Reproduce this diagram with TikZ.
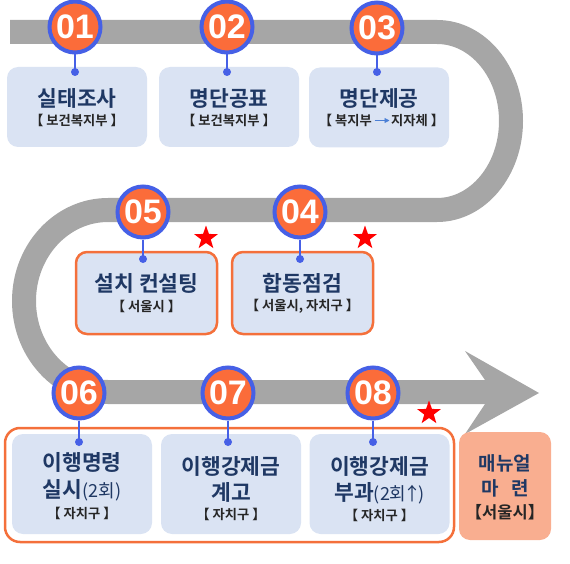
\documentclass[tikz,border=0pt]{standalone}
\usepackage{fontspec}
\newfontfamily\kr{Noto Sans CJK KR}
\newfontfamily\krb{Noto Sans CJK KR Bold}
\newfontfamily\num{Liberation Sans}
\usetikzlibrary{shapes.geometric,arrows.meta}
\definecolor{track}{HTML}{A6A6A6}
\definecolor{cblue}{HTML}{4660E6}
\definecolor{arrblue}{HTML}{4A7FD6}
\definecolor{corange}{HTML}{FB6C3A}
\definecolor{boxfill}{HTML}{DAE3F3}
\definecolor{navy}{HTML}{1F3864}
\definecolor{bord}{HTML}{F4703B}
\definecolor{salmon}{HTML}{F9AE90}
\definecolor{subc}{HTML}{262626}
\tikzset{
  numc/.style={circle,draw=cblue,line width=4pt,fill=corange,minimum size=51pt,inner sep=0pt,
    text=white,font=\num\bfseries\fontsize{34}{34}\selectfont},
  dotc/.style={circle,fill=cblue,minimum size=8pt,inner sep=0pt},
  stem/.style={cblue,line width=2.5pt},
  stepbox/.style={rectangle,rounded corners=11pt,fill=boxfill,minimum width=140pt,inner sep=0pt},
  hotbox/.style={stepbox,draw=bord,line width=2.5pt},
  ttl/.style={text=navy,font=\krb\fontsize{21.5}{24}\selectfont,inner sep=0pt},
  sub/.style={text=subc,font=\krb\fontsize{13.3}{15}\selectfont,inner sep=0pt},
  redstar/.style={star,star points=5,star point ratio=2.5,fill=red,minimum size=25pt,inner sep=0pt},
}
\begin{document}
\begin{tikzpicture}[x=1pt,y=-1pt]
\useasboundingbox (0,0) rectangle (570,564);
% track
\draw[track,line width=24pt] (10,32) -- (437,32)
  arc[start angle=-90,end angle=90,x radius=74,y radius=89] -- (108,210)
  arc[start angle=-90,end angle=-270,x radius=84,y radius=91] -- (486,392);
\fill[track] (465,351) -- (539,393) -- (465,434) -- (485,404) -- (485,380) -- cycle;
% big orange frame
\node[draw=bord,line width=2.5pt,rounded corners=15pt,minimum width=449pt,minimum height=114pt,inner sep=0pt] (frame) at (229.5,485) {};
% row 1 boxes
\node[stepbox,minimum height=80pt] (b1) at (77,107) {};
\node[stepbox,minimum height=80pt] (b2) at (229,107) {};
\node[stepbox,minimum height=80pt] (b3) at (379,107.5) {};
% row 2 boxes
\node[hotbox,minimum width=141pt,minimum height=82pt] (b5) at (146.5,293) {};
\node[hotbox,minimum width=141pt,minimum height=82pt] (b4) at (302.5,293) {};
% row 3 boxes
\node[stepbox,minimum height=100pt] (b6) at (82,484) {};
\node[stepbox,minimum height=100pt] (b7) at (231,484) {};
\node[stepbox,minimum height=100pt] (b8) at (379.5,484) {};
\node[rectangle,rounded corners=11pt,fill=salmon,minimum width=92pt,minimum height=108pt,inner sep=0pt] (bm) at (505,486) {};
% circles, stems, dots
\foreach \n/\x/\y/\dy in {1/75/27/72, 2/227/27/72, 3/377/28/72, 5/143/212/259, 4/300/212/259, 6/79/393/442, 7/228/393/442, 8/373/393/442}{
  \node[dotc] (d\n) at (\x,\dy) {};
  \node[numc] (c\n) at (\x,\y) {0\n};
  \draw[stem] (c\n.south) -- (d\n.center);
}
% stars
\node[redstar] (s5) at (206,238) {};
\node[redstar] (s4) at (365,238) {};
\node[redstar] (s8) at (429,413) {};
% row 1 texts
\node[ttl] (t1) at (77,98) {실태조사};
\node[sub] (u1) at (77,120) {【 보건복지부 】};
\node[ttl] (t2) at (229,98) {명단공표};
\node[sub] (u2) at (229,120) {【 보건복지부 】};
\node[ttl] (t3) at (379,98) {명단제공};
\node[sub,anchor=east] (u3a) at (372,120) {【 복지부};
\node[sub,anchor=west] (u3b) at (391,120) {지자체 】};
\coordinate (a3s) at ([xshift=2.5pt,yshift=-0.5pt]u3a.east);
\coordinate (a3e) at ([xshift=-1.5pt,yshift=-0.5pt]u3b.west);
\draw[arrblue,line width=0.8pt,-{Triangle[length=5pt,width=5pt]}] (a3s) -- (a3e);
% row 2 texts
\node[ttl] (t5) at (146.5,283) {설치 컨설팅};
\node[sub] (u5) at (146.5,306) {【 서울시 】};
\node[ttl] (t4) at (302.5,283) {합동점검};
\node[sub] (u4) at (302.5,306) {【 서울시, 자치구 】};
% row 3 texts
\node[ttl] (t6) at (82,462) {이행명령};
\node[ttl] (t6b) at (82,490) {실시{\kr\fontsize{18}{18}\selectfont(2회)}};
\node[sub] (u6) at (82,513) {【 자치구 】};
\node[ttl] (t7) at (231,466) {이행강제금};
\node[ttl] (t7b) at (231,492) {계고};
\node[sub] (u7) at (231,514) {【 자치구 】};
\node[ttl] (t8) at (379.5,466) {이행강제금};
\node[ttl] (t8b) at (379.5,493) {부과{\kr\fontsize{18}{18}\selectfont(2회\kern-3pt↑\kern-3pt)}};
\node[sub] (u8) at (379.5,515) {【 자치구 】};
\node[ttl,font=\krb\fontsize{19}{22}\selectfont] (tm) at (505,463) {매뉴얼};
\node[ttl,font=\krb\fontsize{19}{22}\selectfont] (tm2) at (505,488) {마\hspace{13pt}련};
\node[ttl,font=\krb\fontsize{16.5}{19}\selectfont,text=subc] (um) at (505,512) {【서울시】};
\end{tikzpicture}
\end{document}
